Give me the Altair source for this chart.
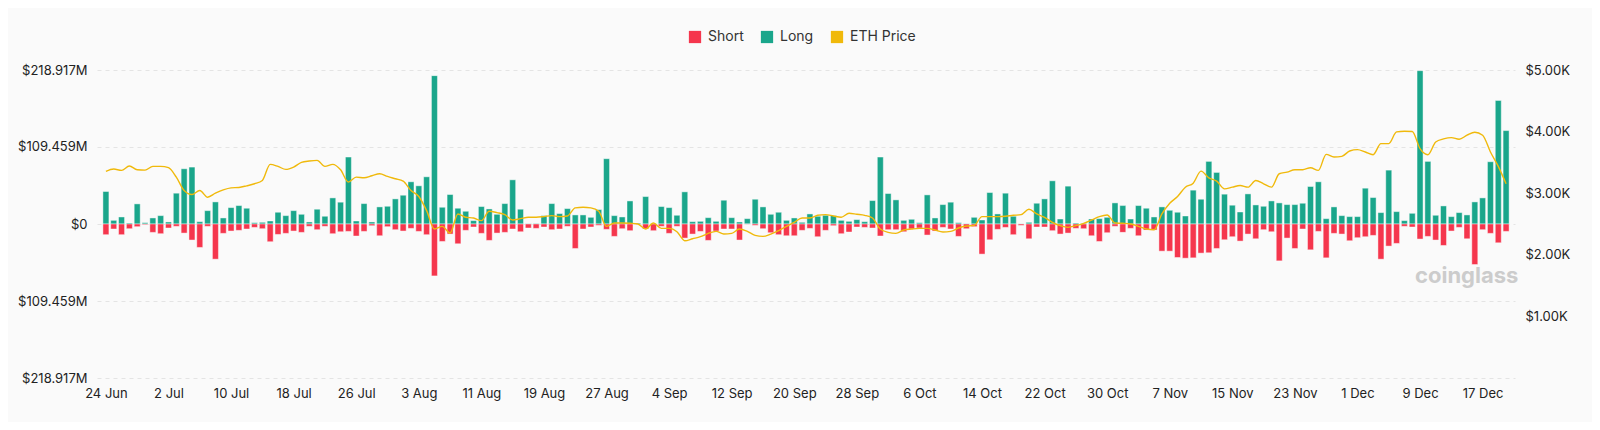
import altair as alt
import pandas as pd

long_m = [
    46.2, 5.2, 10.0, 1.4, 28.6, 1.9, 8.6, 11.9, 2.9, 43.8,
    78.5, 80.9, 3.3, 19.0, 31.4, 8.6, 23.3, 26.2, 22.4, 1.9,
    2.4, 4.3, 16.7, 11.9, 19.0, 13.8, 2.9, 21.0, 11.0, 37.1,
    31.0, 95.2, 4.3, 29.0, 2.9, 24.3, 25.2, 35.7, 40.9, 60.0,
    54.3, 67.1, 210.9, 23.8, 41.9, 22.4, 18.1, 4.8, 24.8, 21.4,
    13.8, 29.0, 62.8, 21.0, 0.5, 0.8, 11.9, 29.0, 14.8, 21.9,
    12.9, 12.9, 9.5, 20.5, 92.8, 11.9, 10.0, 32.8, 1.4, 39.0,
    0.5, 24.8, 23.3, 12.4, 45.7, 3.3, 3.8, 9.0, 3.8, 33.8,
    9.0, 2.9, 7.6, 35.2, 24.3, 13.8, 16.7, 5.2, 8.6, 2.4,
    14.3, 11.0, 12.4, 11.9, 5.2, 3.8, 6.2, 3.3, 33.3, 95.2,
    43.3, 34.3, 5.2, 6.7, 1.9, 41.4, 8.6, 27.6, 31.0, 1.9,
    0.5, 9.5, 5.7, 44.7, 14.3, 43.8, 11.0, 0.3, 2.4, 29.5,
    35.7, 61.4, 7.1, 53.8, 1.4, 1.0, 7.1, 7.6, 9.5, 30.0,
    26.2, 7.1, 26.2, 22.4, 10.0, 24.3, 19.5, 16.7, 11.4, 48.1,
    35.2, 89.0, 73.3, 42.4, 26.7, 17.1, 42.8, 27.1, 25.2, 32.8,
    30.0, 27.6, 27.6, 29.5, 53.3, 60.0, 7.6, 24.3, 11.9, 10.5,
    10.5, 50.9, 37.6, 16.2, 76.6, 17.6, 4.8, 15.2, 218.0, 89.0,
    12.4, 25.7, 10.5, 16.2, 12.9, 31.4, 37.1, 88.5, 175.6, 132.8,
]

short_m = [
    15.2, 7.1, 15.2, 6.7, 3.8, 1.0, 11.9, 13.8, 5.7, 3.3,
    12.9, 22.8, 33.3, 3.3, 50.0, 13.3, 10.0, 9.0, 7.1, 4.8,
    6.7, 25.2, 14.8, 13.3, 10.0, 11.9, 3.3, 8.1, 3.3, 13.8,
    11.0, 10.5, 17.1, 10.5, 2.4, 16.7, 3.8, 8.1, 10.0, 6.2,
    10.5, 15.2, 73.8, 24.8, 14.3, 28.1, 9.0, 4.3, 13.3, 23.3,
    12.9, 11.9, 7.1, 11.0, 5.7, 6.2, 4.3, 8.1, 7.1, 3.3,
    34.8, 7.1, 4.3, 1.9, 7.6, 17.6, 6.7, 9.5, 0.5, 7.1,
    9.5, 3.3, 13.3, 3.3, 20.0, 14.3, 10.5, 23.3, 10.0, 7.1,
    7.1, 22.8, 0.3, 1.9, 6.7, 12.4, 15.2, 16.7, 16.7, 9.0,
    6.2, 18.1, 9.0, 2.4, 13.8, 11.4, 4.3, 4.8, 5.7, 17.1,
    8.1, 8.1, 11.0, 7.1, 5.7, 15.7, 10.0, 4.8, 7.1, 17.6,
    6.7, 3.8, 42.8, 22.4, 7.6, 4.8, 15.2, 1.9, 21.0, 4.3,
    4.3, 9.5, 14.3, 12.9, 6.2, 6.7, 16.7, 24.8, 12.4, 3.3,
    11.9, 6.2, 16.7, 8.6, 8.6, 38.6, 38.6, 47.6, 48.6, 48.1,
    41.4, 40.9, 34.8, 22.4, 18.1, 24.3, 14.3, 21.0, 8.1, 11.0,
    52.4, 20.0, 34.8, 7.1, 36.7, 10.5, 48.1, 13.3, 14.3, 23.8,
    19.5, 18.1, 16.2, 50.0, 31.4, 27.6, 3.3, 4.3, 21.4, 17.6,
    22.8, 30.5, 10.0, 4.8, 21.0, 57.6, 8.1, 13.3, 26.7, 10.5,
]

eth_price = [
    3353, 3392, 3370, 3441, 3381, 3375, 3435, 3435, 3414, 3261,
    3044, 2978, 3044, 2935, 3000, 3054, 3087, 3093, 3120, 3153,
    3207, 3468, 3435, 3386, 3424, 3500, 3522, 3533, 3435, 3468,
    3380, 3180, 3261, 3250, 3283, 3316, 3272, 3234, 3196, 3044,
    2946, 2717, 2418, 2462, 2353, 2663, 2609, 2598, 2554, 2706,
    2685, 2652, 2565, 2587, 2609, 2609, 2620, 2636, 2620, 2630,
    2761, 2772, 2761, 2706, 2462, 2516, 2516, 2511, 2500, 2418,
    2516, 2429, 2429, 2375, 2228, 2261, 2294, 2348, 2380, 2337,
    2348, 2418, 2380, 2315, 2299, 2337, 2391, 2462, 2527, 2598,
    2598, 2641, 2652, 2630, 2609, 2674, 2658, 2641, 2598, 2418,
    2364, 2348, 2402, 2418, 2429, 2429, 2402, 2370, 2380, 2435,
    2467, 2478, 2620, 2620, 2620, 2625, 2641, 2652, 2739, 2663,
    2609, 2527, 2473, 2446, 2473, 2511, 2565, 2620, 2647, 2516,
    2511, 2500, 2462, 2418, 2407, 2663, 2837, 2946, 3098, 3163,
    3359, 3250, 3196, 3071, 3098, 3125, 3098, 3207, 3153, 3098,
    3316, 3343, 3381, 3381, 3414, 3370, 3631, 3587, 3598, 3685,
    3707, 3669, 3625, 3805, 3805, 3995, 4006, 4001, 3723, 3625,
    3832, 3881, 3903, 3876, 3941, 3990, 3941, 3669, 3435, 3153,
]

tick_labels = [
    "24 Jun", "2 Jul", "10 Jul", "18 Jul", "26 Jul", "3 Aug", "11 Aug",
    "19 Aug", "27 Aug", "4 Sep", "12 Sep", "20 Sep", "28 Sep", "6 Oct",
    "14 Oct", "22 Oct", "30 Oct", "7 Nov", "15 Nov", "23 Nov", "1 Dec",
    "9 Dec", "17 Dec",
]

series_names = ["Short", "Long", "ETH Price"]
series_colors = ["#f5364d", "#1aa68b", "#f0b90b"]

left_ticks = [-218.917, -109.459, 0, 109.459, 218.917]
right_ticks = [1000, 2000, 3000, 4000, 5000]

n = len(long_m)
day = list(range(n))
bars_df = pd.DataFrame({
    "day": day + day,
    "value": long_m + [-s for s in short_m],
    "series": ["Long"] * n + ["Short"] * n,
})
line_df = pd.DataFrame({"day": day, "price": eth_price})

FONT = "Inter"
label_arr = "[" + ",".join("'%s'" % t for t in tick_labels) + "]"

x_enc = alt.X(
    "day:Q",
    scale=alt.Scale(domain=[-0.5, n - 0.5], nice=False, zero=False),
    axis=alt.Axis(
        values=list(range(0, n, 8)),
        labelExpr=label_arr + "[round(datum.value/8)]",
        grid=False, ticks=False, domain=False, labelPadding=9,
        labelFontSize=13, labelColor="#222", labelFlush=False,
        labelOverlap=False, title=None,
    ),
)

bars = alt.Chart(bars_df).mark_bar(
    size=6, stroke="#ffffff", strokeWidth=0.8, strokeOpacity=0.55
).encode(
    x=x_enc,
    y=alt.Y(
        "value:Q",
        stack=None,
        scale=alt.Scale(domain=[-218.917, 218.917], nice=False),
        axis=alt.Axis(
            values=left_ticks,
            labelExpr="datum.value == 0 ? '$0' : '$' + format(abs(datum.value), '.3f') + 'M'",
            gridDash=[4, 4], gridColor="#e4e4e4", ticks=False, domain=False,
            labelPadding=10, labelFontSize=13, labelColor="#222", title=None,
        ),
    ),
    color=alt.Color(
        "series:N",
        scale=alt.Scale(domain=series_names, range=series_colors),
        legend=alt.Legend(
            orient="none", legendX=591, legendY=-40, direction="horizontal",
            symbolType="square", symbolSize=150, symbolStrokeWidth=0,
            labelFontSize=14, labelColor="#333", labelOffset=6,
            columnPadding=16, padding=0, title=None,
        ),
    ),
)

line = alt.Chart(line_df).mark_line(
    interpolate="monotone", color="#f0b90b", strokeWidth=1.4
).encode(
    x=alt.X("day:Q"),
    y=alt.Y(
        "price:Q",
        scale=alt.Scale(domain=[0, 5000], nice=False),
        axis=alt.Axis(
            orient="right", values=right_ticks,
            labelExpr="'$' + format(datum.value/1000, '.2f') + 'K'",
            gridDash=[4, 4], gridColor="#e4e4e4", ticks=False, domain=False,
            labelPadding=10, labelFontSize=13, labelColor="#222", title=None,
        ),
    ),
)

wm = alt.Chart(pd.DataFrame({"t": ["coinglass"]})).mark_text(
    font=FONT, fontSize=22, fontWeight="bold", color="#cccccc",
    align="left", baseline="middle",
).encode(text="t:N", x=alt.value(1318), y=alt.value(206))

chart = alt.layer(bars, line, wm).resolve_scale(y="independent").properties(
    width=1418, height=308,
    padding={"left": 89, "top": 62, "right": 77, "bottom": 44},
    autosize=alt.AutoSizeParams(type="none"),
).configure(background="#fafafa", font=FONT).configure_view(stroke=None)

chart.save("out.html", embed_options={"renderer": "svg", "actions": False})
